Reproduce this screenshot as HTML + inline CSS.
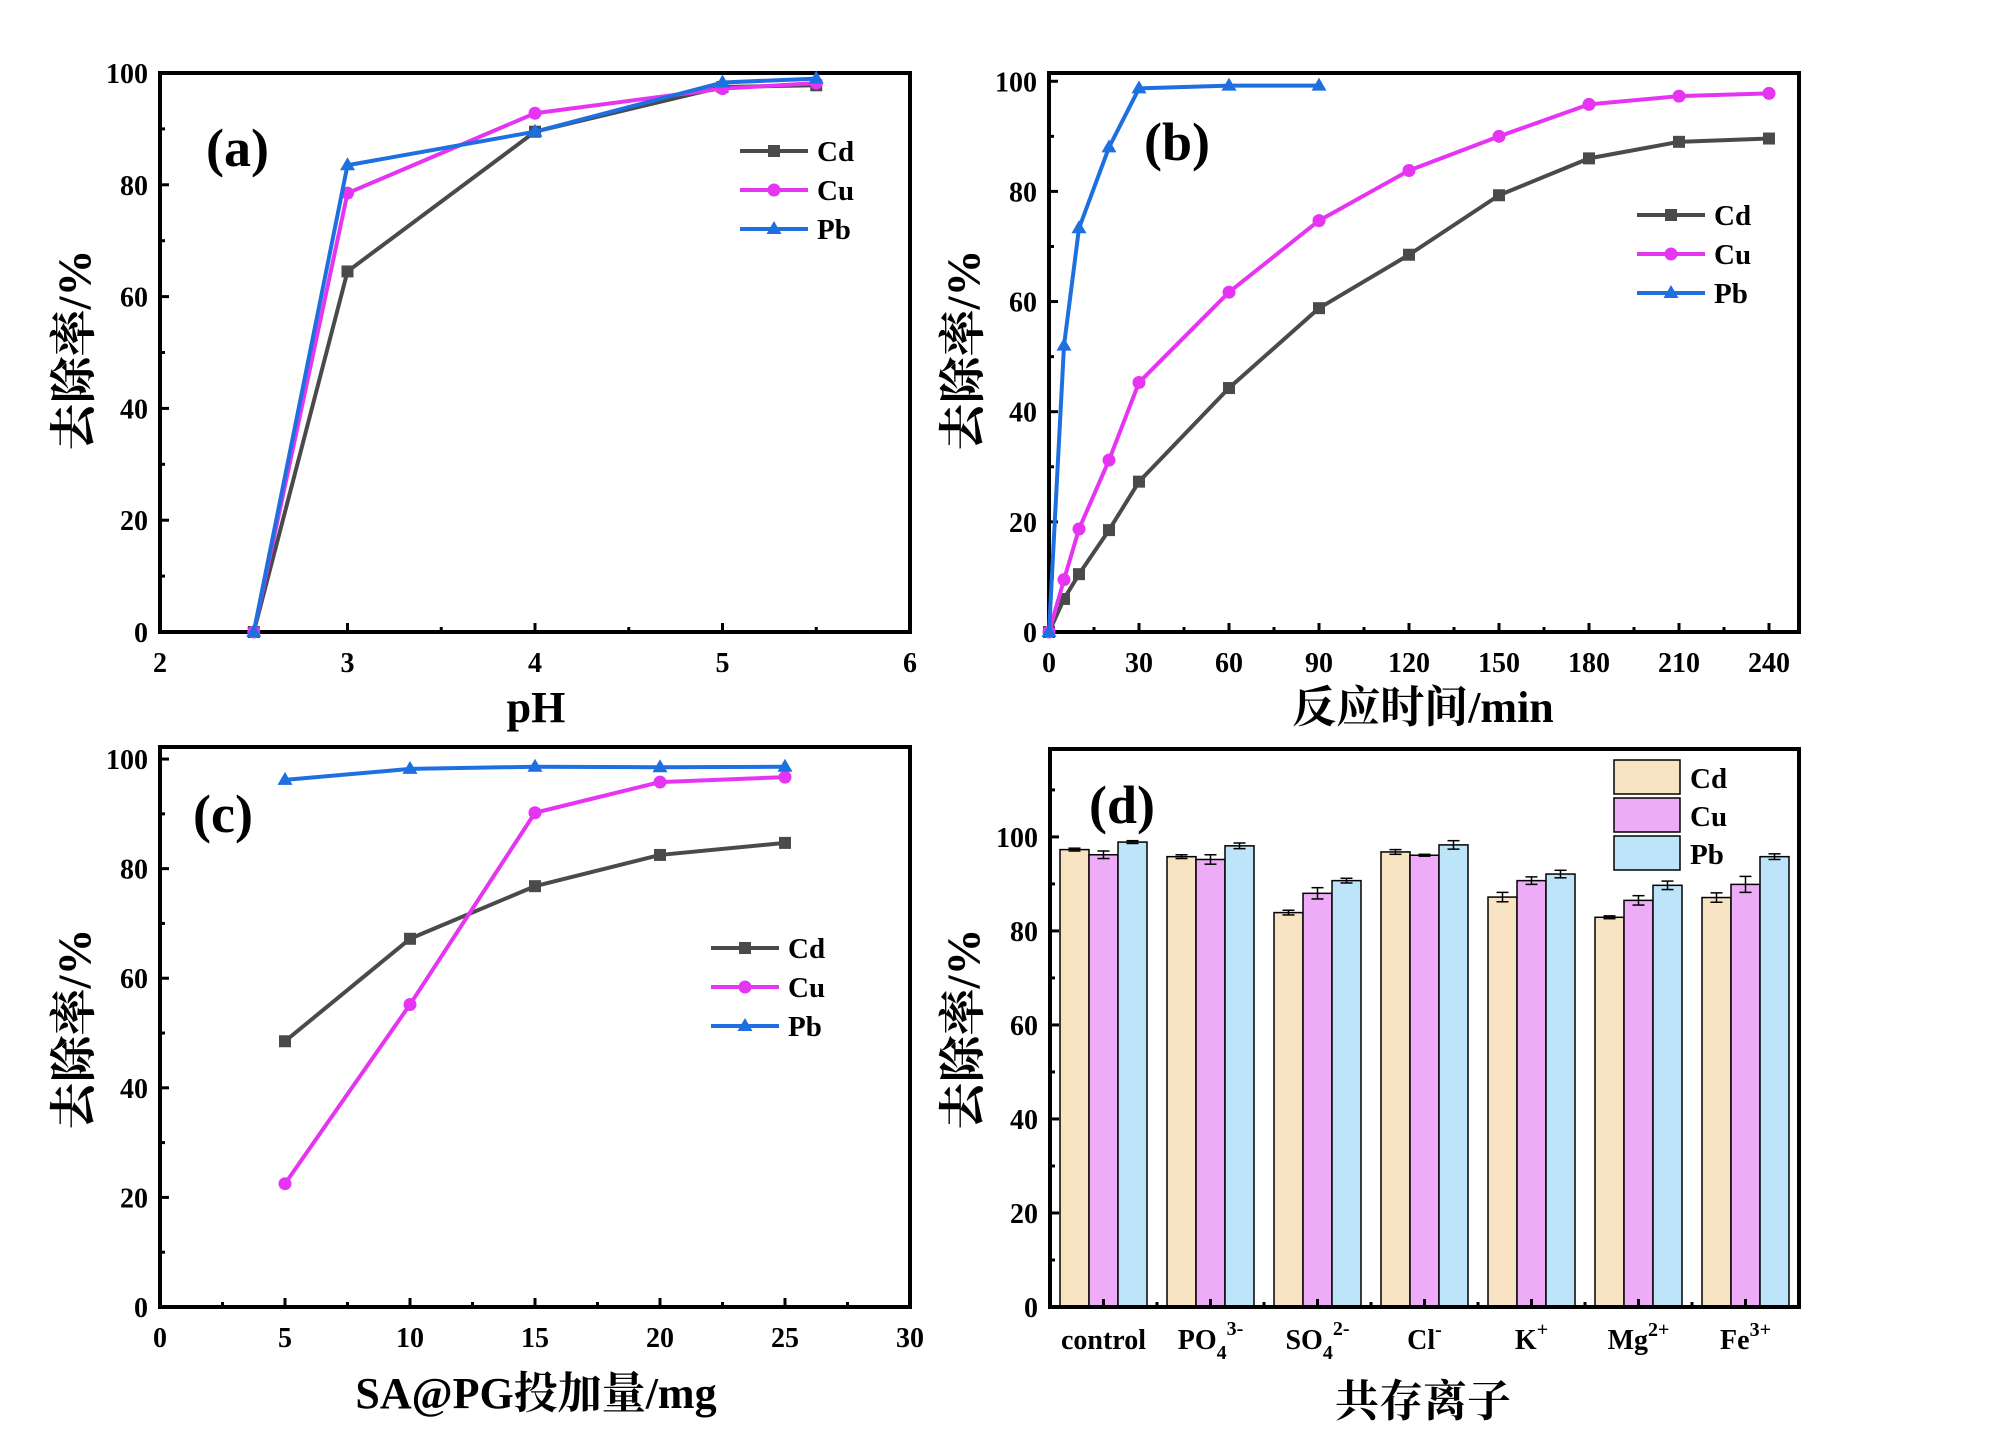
<!DOCTYPE html>
<html><head><meta charset="utf-8">
<style>
body{margin:0;background:#fff;}
svg{display:block;}
text{font-family:"Liberation Serif","Noto Serif CJK SC",serif;font-weight:bold;fill:#000;}
.cjk{font-family:"Liberation Serif","Noto Serif CJK SC","Noto Sans CJK SC",serif;font-weight:bold;}
</style></head>
<body>
<svg id="fig" width="2000" height="1454" viewBox="0 0 2000 1454" xmlns="http://www.w3.org/2000/svg"></svg>
<script>
// ---- Panel (a) data ----
const phX = [2.5, 3, 4, 5, 5.5];
const phCd = [0, 64.5, 89.5, 97.5, 97.8];
const phCu = [0, 78.5, 92.8, 97.2, 98.2];
const phPb = [0, 83.5, 89.5, 98.3, 99.0];
const phTicks = [2, 3, 4, 5, 6];
// ---- Panel (b) data ----
const tX = [0, 5, 10, 20, 30, 60, 90, 120, 150, 180, 210, 240];
const tCd = [0, 6, 10.5, 18.5, 27.3, 44.3, 58.8, 68.5, 79.3, 86, 89, 89.6];
const tCu = [0, 9.5, 18.7, 31.2, 45.3, 61.7, 74.7, 83.8, 90, 95.8, 97.3, 97.8];
const tXPb = [0, 5, 10, 20, 30, 60, 90];
const tPb = [0, 52, 73.3, 88, 98.7, 99.2, 99.2];
const tTicks = [0, 30, 60, 90, 120, 150, 180, 210, 240];
// ---- Panel (c) data ----
const dX = [5, 10, 15, 20, 25];
const dCd = [48.5, 67.2, 76.8, 82.5, 84.7];
const dCu = [22.5, 55.2, 90.2, 95.8, 96.7];
const dPb = [96.2, 98.2, 98.6, 98.5, 98.6];
const dTicks = [0, 5, 10, 15, 20, 25, 30];
// ---- Panel (d) data ----
const ionCats = ["control", "PO4", "SO4", "Cl", "K", "Mg", "Fe"];
const ionCd = [97.3, 95.8, 83.9, 96.8, 87.2, 82.9, 87.1];
const ionCu = [96.2, 95.2, 88.0, 96.1, 90.7, 86.5, 89.9];
const ionPb = [98.9, 98.1, 90.7, 98.3, 92.1, 89.7, 95.8];
const ionCdErr = [0.3, 0.4, 0.5, 0.5, 1.0, 0.3, 1.0];
const ionCuErr = [0.8, 1.0, 1.2, 0.2, 0.8, 1.0, 1.7];
const ionPbErr = [0.3, 0.6, 0.5, 0.9, 0.8, 0.9, 0.6];
const yTicks = [0, 20, 40, 60, 80, 100];

const NS = "http://www.w3.org/2000/svg";
const fig = document.getElementById('fig');
const COL = {Cd:'#4a4a4a', Cu:'#e535f2', Pb:'#1e6fe0'};
const BAR = {Cd:'#f8e4c2', Cu:'#eeabf8', Pb:'#bde4f8'};

function el(tag, attrs, parent, txt){
  const e = document.createElementNS(NS, tag);
  for (const k in attrs) e.setAttribute(k, attrs[k]);
  if (txt !== undefined) e.textContent = txt;
  (parent || fig).appendChild(e);
  return e;
}
function lin(d0, d1, r0, r1){ return v => r0 + (v - d0) / (d1 - d0) * (r1 - r0); }

function frame(g, L, T, R, B){
  const f = el('rect', {x:L, y:T, width:R-L, height:B-T, fill:'none', stroke:'#000', 'stroke-width':4}, g);
  
  
}
function xTicks(g, xs, ticks, minors, B, fmt){
  ticks.forEach(v => {
    el('line', {x1:xs(v), x2:xs(v), y1:B, y2:B-9, stroke:'#000', 'stroke-width':3}, g);
    const t = el('text', {x:xs(v), y:B+40, 'text-anchor':'middle', 'font-size':28}, g, fmt ? fmt(v) : v);
    
    
  });
  minors.forEach(v => el('line', {x1:xs(v), x2:xs(v), y1:B, y2:B-5, stroke:'#000', 'stroke-width':3}, g));
}
function yTickDraw(g, ys, ticks, minors, L){
  ticks.forEach(v => {
    el('line', {x1:L, x2:L+9, y1:ys(v), y2:ys(v), stroke:'#000', 'stroke-width':3}, g);
    const t = el('text', {x:L-12, y:ys(v)+10, 'text-anchor':'end', 'font-size':28}, g, v);
    
    
  });
  minors.forEach(v => el('line', {x1:L, x2:L+5, y1:ys(v), y2:ys(v), stroke:'#000', 'stroke-width':3}, g));
}
function marker(g, kind, x, y, c){
  if (kind === 'Cd') el('rect', {x:x-6, y:y-6, width:12, height:12, fill:c}, g);
  else if (kind === 'Cu') el('circle', {cx:x, cy:y, r:6.5, fill:c}, g);
  else el('polygon', {points:`${x},${y-8} ${x+7.5},${y+5} ${x-7.5},${y+5}`, fill:c}, g);
}
function series(g, kind, xs, ys, X, Y){
  const pts = X.map((v,i) => xs(v)+','+ys(Y[i])).join(' ');
  const p = el('polyline', {points:pts, fill:'none', stroke:COL[kind], 'stroke-width':4, 'stroke-linejoin':'round'}, g);
  
  
  X.forEach((v,i) => marker(g, kind, xs(v), ys(Y[i]), COL[kind]));
}
function legendLines(g, x, y, gap){
  ['Cd','Cu','Pb'].forEach((k,i) => {
    const gg = el('g', {}, g);
    
    
    const yy = y + i*gap;
    el('line', {x1:x, x2:x+68, y1:yy, y2:yy, stroke:COL[k], 'stroke-width':4}, gg);
    marker(gg, k, x+34, yy, COL[k]);
    el('text', {x:x+77, y:yy+10, 'font-size':29}, gg, k);
  });
}
function titles(g, xt, xtx, xty, yx, yy, lab, lx, ly){
  const t1 = el('text', {x:xtx, y:xty, 'text-anchor':'middle', 'font-size':44, class:'cjk'}, g, xt);
  
  
  const t2 = el('text', {x:0, y:0, 'text-anchor':'middle', 'font-size':47, class:'cjk', transform:`translate(${yx},${yy}) rotate(-90)`}, g, '去除率/%');
  
  
  const t3 = el('text', {x:lx, y:ly, 'font-size':54}, g, lab);
  
  
}

// ===== Panel a =====
(function(){
  const g = el('g', {});  
  const L=160,R=910,T=73,B=632;
  const xs = lin(2,6,L,R), ys = lin(0,100,B,T);
  frame(g,L,T,R,B);
  xTicks(g, xs, phTicks, [2.5,3.5,4.5,5.5], B);
  yTickDraw(g, ys, yTicks, [10,30,50,70,90], L);
  series(g,'Cd',xs,ys,phX,phCd); series(g,'Cu',xs,ys,phX,phCu); series(g,'Pb',xs,ys,phX,phPb);
  legendLines(g, 740, 151, 39);
  titles(g, 'pH', 536, 722, 90, 350, '(a)', 206, 166);
})();
// ===== Panel b =====
(function(){
  const g = el('g', {});  
  const L=1049,R=1799,T=73,B=632;
  const xs = lin(0,250,L,R), ys = lin(0,101.5,B,T);
  frame(g,L,T,R,B);
  xTicks(g, xs, tTicks, [15,45,75,105,135,165,195,225], B);
  yTickDraw(g, ys, yTicks, [10,30,50,70,90], L);
  series(g,'Cd',xs,ys,tX,tCd); series(g,'Cu',xs,ys,tX,tCu); series(g,'Pb',xs,ys,tXPb,tPb);
  legendLines(g, 1637, 215, 39);
  titles(g, '反应时间/min', 1423, 722, 979, 350, '(b)', 1144, 160);
})();
// ===== Panel c =====
(function(){
  const g = el('g', {});  
  const L=160,R=910,T=747,B=1307;
  const xs = lin(0,30,L,R), ys = lin(0,102.2,B,T);
  frame(g,L,T,R,B);
  xTicks(g, xs, dTicks, [2.5,7.5,12.5,17.5,22.5,27.5], B);
  yTickDraw(g, ys, yTicks, [10,30,50,70,90], L);
  series(g,'Cd',xs,ys,dX,dCd); series(g,'Cu',xs,ys,dX,dCu); series(g,'Pb',xs,ys,dX,dPb);
  legendLines(g, 711, 948, 39);
  titles(g, 'SA@PG投加量/mg', 536, 1408, 90, 1029, '(c)', 193, 832);
})();
// ===== Panel d =====
(function(){
  const g = el('g', {});  
  const L=1050,R=1799,T=749,B=1307;
  const xs = lin(-0.5,6.5,L,R), ys = lin(0,118.7,B,T);
  const bw = 29;
  const groups = [['Cd',ionCd,ionCdErr],['Cu',ionCu,ionCuErr],['Pb',ionPb,ionPbErr]];
  ionCats.forEach((c,i) => {
    groups.forEach((gr,j) => {
      const x0 = xs(i) - 1.5*bw + j*bw, v = gr[1][i], e = gr[2][i];
      const r = el('rect', {x:x0, y:ys(v), width:bw, height:B-ys(v), fill:BAR[gr[0]], stroke:'#000', 'stroke-width':1.5}, g);
      
      
      const cx = x0 + bw/2;
      el('line', {x1:cx, x2:cx, y1:ys(v+e), y2:ys(v-e), stroke:'#000', 'stroke-width':1.5}, g);
      el('line', {x1:cx-6, x2:cx+6, y1:ys(v+e), y2:ys(v+e), stroke:'#000', 'stroke-width':1.5}, g);
      el('line', {x1:cx-6, x2:cx+6, y1:ys(v-e), y2:ys(v-e), stroke:'#000', 'stroke-width':1.5}, g);
    });
    el('line', {x1:xs(i), x2:xs(i), y1:B, y2:B-8, stroke:'#000', 'stroke-width':3}, g);
    if (i > 0) el('line', {x1:xs(i-0.5), x2:xs(i-0.5), y1:B, y2:B-5, stroke:'#000', 'stroke-width':3}, g);
  });
  frame(g,L,T,R,B);
  yTickDraw(g, ys, yTicks, [10,30,50,70,90,110], L);
  const labs = [['control','',''],['PO','4','3-'],['SO','4','2-'],['Cl','','-'],['K','','+'],['Mg','','2+'],['Fe','','3+']];
  labs.forEach((l,i) => {
    const t = el('text', {x:xs(i), y:B+42, 'text-anchor':'middle', 'font-size':28}, g);
    
    
    el('tspan', {}, t, l[0]);
    if (l[1]) el('tspan', {dy:10, 'font-size':20}, t, l[1]);
    if (l[2]) el('tspan', {dy: l[1] ? -24 : -13, 'font-size':20}, t, l[2]);
  });
  ['Cd','Cu','Pb'].forEach((k,i) => {
    const gg = el('g', {}, g);
    
    
    const y = 760 + i*38;
    el('rect', {x:1614, y:y, width:66, height:34, fill:BAR[k], stroke:'#000', 'stroke-width':1.5}, gg);
    el('text', {x:1690, y:y+28, 'font-size':29}, gg, k);
  });
  titles(g, '共存离子', 1423, 1416, 979, 1029, '(d)', 1089, 823);
})();
</script>
</body></html>
